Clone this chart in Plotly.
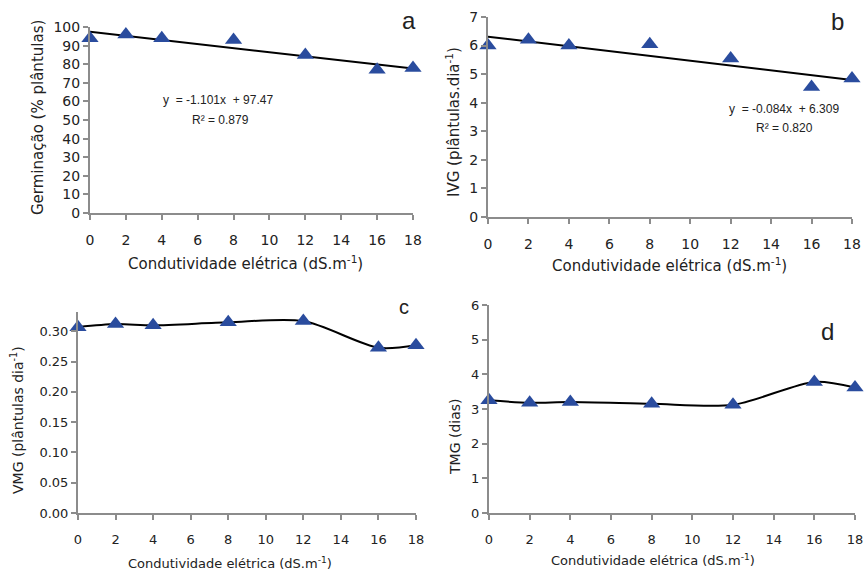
import plotly.graph_objects as go

# ---- data ----
ce = [0, 2, 4, 8, 12, 16, 18]
germinacao = [94, 96, 94, 93, 85, 77, 78]
ivg = [6.0, 6.2, 6.0, 6.05, 5.55, 4.55, 4.85]
vmg = [0.307, 0.312, 0.310, 0.315, 0.317, 0.273, 0.277]
tmg = [3.25, 3.18, 3.20, 3.15, 3.12, 3.78, 3.62]

fit_a = (-1.101, 97.47)
fit_b = (-0.084, 6.309)
x_fit = [0, 18]
x_ticks = [0, 2, 4, 6, 8, 10, 12, 14, 16, 18]

W, H = 864, 573
BLUE = "#2A4C9E"
AX = "#8c8c8c"

def px(x): return x / W
def py(y): return 1 - y / H

fig = go.Figure()

panels = [
    # name, xdom, ydom, yrange, ydtick, tickformat, fontsize
    ("1", [px(90), px(413)], [py(213), py(27)], [0, 100], 10, None, 15),
    ("2", [px(488), px(852)], [py(217), py(17)], [0, 7], 1, None, 15),
    ("3", [px(78), px(416)], [py(513), py(312)], [0, 0.332], 0.05, ".2f", 14),
    ("4", [px(489), px(855)], [py(513), py(305)], [0, 6], 1, None, 14),
]

layout = {}
for name, xd, yd, yr, dt, fmt, fs in panels:
    xk = "xaxis" if name == "1" else "xaxis" + name
    yk = "yaxis" if name == "1" else "yaxis" + name
    layout[xk] = dict(domain=xd, range=[0, 18], tickvals=x_ticks, anchor="y" if name == "1" else "y" + name,
                      showgrid=False, zeroline=False, showline=True, linecolor=AX, linewidth=2,
                      ticks="outside", ticklen=5, tickwidth=2, tickcolor=AX, automargin=False,
                      tickfont=dict(family="DejaVu Sans", size=fs - 1, color="#222"),
                      ticklabelstandoff=8)
    layout[yk] = dict(domain=yd, range=yr, dtick=dt, tickformat=fmt, anchor="x" if name == "1" else "x" + name,
                      showgrid=False, zeroline=False, showline=True, linecolor=AX, linewidth=2,
                      ticks="outside", ticklen=5, tickwidth=2, tickcolor=AX, automargin=False,
                      tickfont=dict(family="DejaVu Sans", size=fs - 1, color="#222"))

# panel a
fig.add_trace(go.Scatter(x=x_fit, y=[fit_a[1] + fit_a[0] * v for v in x_fit], mode="lines",
                         line=dict(color="black", width=2), xaxis="x", yaxis="y"))
fig.add_trace(go.Scatter(x=ce, y=germinacao, mode="markers", cliponaxis=False,
                         marker=dict(symbol="triangle-up", size=15, color=BLUE), xaxis="x", yaxis="y"))
# panel b
fig.add_trace(go.Scatter(x=x_fit, y=[fit_b[1] + fit_b[0] * v for v in x_fit], mode="lines",
                         line=dict(color="black", width=2), xaxis="x2", yaxis="y2"))
fig.add_trace(go.Scatter(x=ce, y=ivg, mode="markers", cliponaxis=False,
                         marker=dict(symbol="triangle-up", size=15, color=BLUE), xaxis="x2", yaxis="y2"))
# panel c
fig.add_trace(go.Scatter(x=ce, y=vmg, mode="lines+markers", cliponaxis=False,
                         line=dict(color="black", width=2, shape="spline", smoothing=0.8),
                         marker=dict(symbol="triangle-up", size=15, color=BLUE), xaxis="x3", yaxis="y3"))
# panel d
fig.add_trace(go.Scatter(x=ce, y=tmg, mode="lines+markers", cliponaxis=False,
                         line=dict(color="black", width=2, shape="spline", smoothing=0.8),
                         marker=dict(symbol="triangle-up", size=15, color=BLUE), xaxis="x4", yaxis="y4"))

F = "DejaVu Sans"
ann = []
def A(text, x, y, size, angle=0, family=F, **kw):
    ann.append(dict(text=text, x=px(x), y=py(y), xref="paper", yref="paper", showarrow=False,
                    textangle=angle, font=dict(family=family, size=size, color="#222"),
                    xanchor="center", yanchor="middle", **kw))

xt = "Condutividade elétrica (dS.m<sup>-1</sup>)"
A(xt, 245, 263, 15)
A(xt, 669, 265, 15)
A(xt, 230, 563, 13)
A(xt, 653, 560, 13)
A("Germinação (% plântulas)", 38, 118, 15, -90)
A("IVG (plântulas.dia<sup>-1</sup>)", 453, 122, 15, -90)
A("VMG (plântulas dia<sup>-1</sup>)", 17, 420, 14, -90)
A("TMG (dias)", 455, 437, 14, -90)
A("y  = -1.101x  + 97.47", 218, 100, 12, family="Liberation Sans")
A("R² = 0.879", 220, 120, 12, family="Liberation Sans")
A("y  = -0.084x  + 6.309", 784, 109, 12, family="Liberation Sans")
A("R² = 0.820", 784, 128, 12, family="Liberation Sans")
A("a", 409, 20, 24, family="Liberation Sans")
A("b", 837, 22, 24, family="Liberation Sans")
A("c", 404, 307, 20, family="Liberation Sans")
A("d", 827, 331, 24, family="Liberation Sans")

fig.update_layout(width=W, height=H, margin=dict(l=0, r=0, t=0, b=0),
                  paper_bgcolor="white", plot_bgcolor="white", showlegend=False,
                  annotations=ann, **layout)

fig.write_html("out.html", config={"displayModeBar": False},
               post_script="document.body.style.margin='0';document.body.style.padding='0';document.body.style.overflow='hidden';")
